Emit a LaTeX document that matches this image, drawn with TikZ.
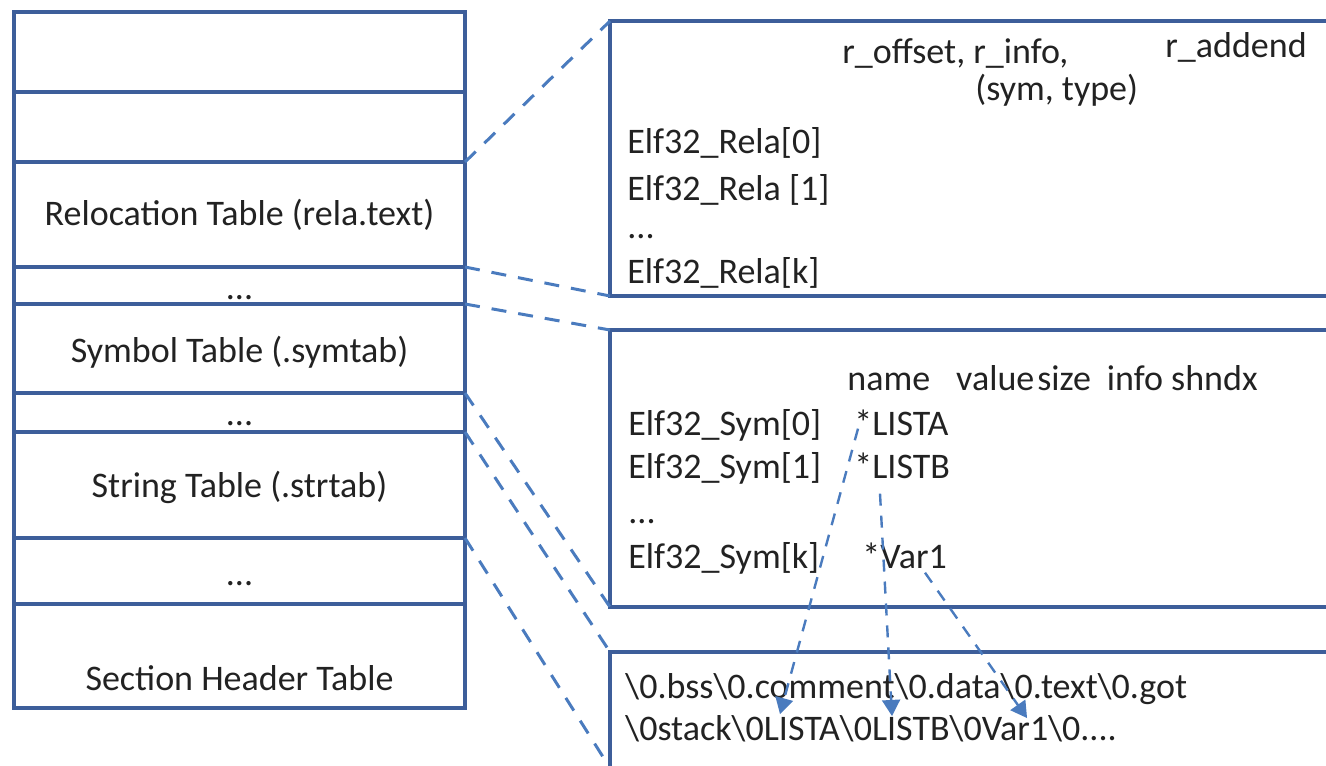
\documentclass[tikz,border=0pt]{standalone}
\usepackage{fontspec}
\setmainfont{Carlito}
\usepackage{tikz}
\usetikzlibrary{arrows}
\usetikzlibrary{positioning}
\definecolor{boxblue}{HTML}{3D5E9A}
\definecolor{dashblue}{HTML}{4A7BBE}
\definecolor{ink}{HTML}{222222}
\newcommand{\bsl}{\textbackslash}
\tikzset{every text node part/.style={font={\fontsize{18}{22}\selectfont\color{ink}}}}
\tikzstyle{sect} = [draw=boxblue, line width=1.6pt, minimum width=225.5pt, inner sep=0pt, outer sep=0pt, text depth=0pt]
\tikzstyle{tbl} = [draw=boxblue, line width=1.6pt, minimum width=365pt, inner sep=0pt, outer sep=0pt, anchor=north west]
\tikzstyle{entry} = [anchor=base west, inner sep=0pt]
\tikzstyle{zoomln} = [draw=dashblue, line width=1.5pt, dash pattern=on 7.5pt off 6pt]
\tikzstyle{ptr} = [draw=dashblue, line width=1.2pt, dash pattern=on 6pt off 5pt, arrows={-triangle 60}]

\begin{document}
\begin{tikzpicture}[x=0.5pt, y=-0.5pt]
  \useasboundingbox (0,0) rectangle (1326,765);
  \clip (0,0) rectangle (1326,765);
  % ELF file layout
  \node[sect, minimum height=40pt, anchor=north west] (elfhdr) at (14,12) {};
  \node[sect, minimum height=35pt, below=0pt of elfhdr] (proghdr) {};
  \node[sect, minimum height=52.5pt, text height=10.5pt, below=0pt of proghdr] (rela) {Relocation Table (rela.text)};
  \node[sect, minimum height=18.5pt, text height=13.5pt, below=0pt of rela] (gapa) {...};
  \node[sect, minimum height=44.5pt, text height=13.5pt, below=0pt of gapa] (symtab) {Symbol Table (.symtab)};
  \node[sect, minimum height=19.5pt, text height=12.5pt, below=0pt of symtab] (gapb) {...};
  \node[sect, minimum height=53pt, text height=12pt, below=0pt of gapb] (strtab) {String Table (.strtab)};
  \node[sect, minimum height=33pt, text height=14pt, below=0pt of strtab] (gapc) {...};
  \node[sect, minimum height=52pt, text height=34pt, below=0pt of gapc] (shtab) {Section Header Table};
  % expanded tables
  \node[tbl, minimum height=137.5pt] (relbox) at (610,21) {};
  \node[tbl, minimum height=138.5pt] (symbox) at (610,330) {};
  \node[tbl, minimum height=58pt] (strbox) at (610,652) {};
  % relocation entries
  \node[entry] (offinfo) at (842,64) {r\_offset, r\_info,};
  \node[entry] (addend) at (1165,58) {r\_addend};
  \node[entry] (symtype) at (975,100) {(sym, type)};
  \node[entry] (rela0) at (627,153) {Elf32\_Rela[0]};
  \node[entry] (rela1) at (627,200) {Elf32\_Rela [1]};
  \node[entry] (reladots) at (627,238) {...};
  \node[entry] (relak) at (627,283) {Elf32\_Rela[k]};
  % symbol entries
  \node[entry] (symcols) at (847,390) {name\hspace{13pt}value\hspace{1.5pt}size\hspace{8pt}info shndx};
  \node[entry] (sym0) at (628,435) {Elf32\_Sym[0]};
  \node[entry] (lista) at (854,435) {*LISTA};
  \node[entry] (sym1) at (628,478) {Elf32\_Sym[1]};
  \node[entry] (listb) at (854,478) {*LISTB};
  \node[entry] (symdots) at (628,523) {...};
  \node[entry] (symk) at (628,568) {Elf32\_Sym[k]};
  \node[entry] (var1) at (862,568) {*Var1};
  % string table contents
  \node[entry] (strs1) at (625,698) {\bsl 0.bss\bsl 0.comment\bsl 0.data\bsl 0.text\bsl 0.got};
  \node[entry] (strs2) at (625,740) {\bsl 0stack\bsl 0LISTA\bsl 0LISTB\bsl 0Var1\bsl 0....};
  \coordinate (tolista) at (780,714);
  \coordinate (tolistb) at (892,716);
  \coordinate (tovar1) at (1027,718);
  \path[zoomln]
    (rela.north east) edge (relbox.north west)
    (rela.south east) edge (relbox.south west)
    (symtab.north east) edge (symbox.north west)
    (symtab.south east) edge (symbox.south west)
    (strtab.north east) edge (strbox.north west)
    (strtab.south east) edge (strbox.south west);
  \draw[ptr] ([xshift=2pt, yshift=3.5pt]lista.south west) -- (tolista);
  \draw[ptr] ([xshift=13pt, yshift=-7.5pt]listb.south west) -- (tolistb);
  \draw[ptr] ([xshift=31.5pt, yshift=-2pt]var1.south west) -- (tovar1);
\end{tikzpicture}
\end{document}
